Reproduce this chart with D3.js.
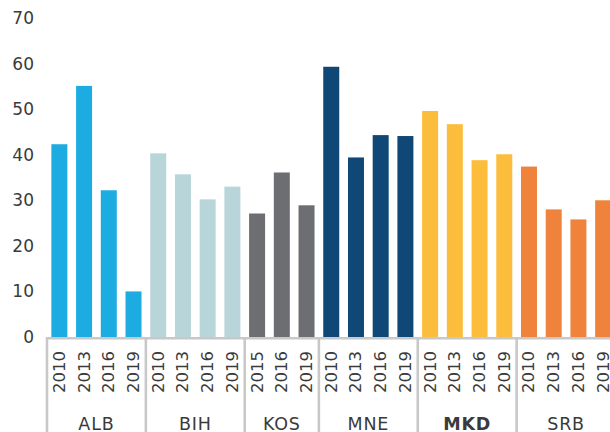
<!DOCTYPE html>
<html>
<head>
<meta charset="utf-8">
<script src="https://cdn.jsdelivr.net/npm/d3@7"></script>
<style>
  html, body { margin: 0; padding: 0; background: #fff; }
  svg { display: block; }
  text { font-family: "DejaVu Sans", sans-serif; fill: #3a3a3a; }
</style>
</head>
<body>
<svg id="chart" width="610" height="432"></svg>
<script>
const countries = ["ALB", "BIH", "KOS", "MNE", "MKD", "SRB"];
const years = [
  ["2010", "2013", "2016", "2019"],
  ["2010", "2013", "2016", "2019"],
  ["2015", "2016", "2019"],
  ["2010", "2013", "2016", "2019"],
  ["2010", "2013", "2016", "2019"],
  ["2010", "2013", "2016", "2019"]
];
const values = [
  [42.3, 55.1, 32.2, 10.0],
  [40.3, 35.7, 30.2, 33.0],
  [27.1, 36.1, 28.9],
  [59.3, 39.4, 44.3, 44.1],
  [49.6, 46.7, 38.8, 40.1],
  [37.4, 28.0, 25.8, 30.0]
];
const colors = ["#1cace2", "#b8d5d9", "#6d6e71", "#0f4776", "#fdbd3c", "#f0833c"];
const yTicks = [0, 10, 20, 30, 40, 50, 60, 70];
const boldCountry = "MKD";

const rows = [];
countries.forEach((c, gi) => {
  years[gi].forEach((yr, j) => {
    rows.push({ key: c + "-" + yr, country: c, year: yr, value: values[gi][j], gi });
  });
});

const svg = d3.select("#chart");
const x = d3.scaleBand()
  .domain(rows.map(d => d.key))
  .range([47, 615.5])
  .paddingInner(0.353)
  .paddingOuter(0.1765);
const y = d3.scaleLinear().domain([0, 70]).range([337, 18]);

// bars
svg.append("g").selectAll("rect").data(rows).join("rect")
  .attr("x", d => x(d.key))
  .attr("width", x.bandwidth())
  .attr("y", d => y(d.value))
  .attr("height", d => y(0) - y(d.value))
  .attr("fill", d => colors[d.gi]);

// y axis tick labels
svg.append("g").selectAll("text").data(yTicks).join("text")
  .attr("x", 34)
  .attr("y", d => y(d))
  .attr("text-anchor", "end")
  .attr("dominant-baseline", "central")
  .style("font-size", "17px")
  .text(d => d);

// baseline
svg.append("line")
  .attr("x1", 46).attr("x2", 610)
  .attr("y1", y(0) + 1.3).attr("y2", y(0) + 1.3)
  .attr("stroke", "#c8c8c8").attr("stroke-width", 2.6);

// group separators
const step = x.step();
const groupBounds = [];
let idx = 0;
countries.forEach((c, gi) => {
  const first = rows[idx].key;
  const last = rows[idx + years[gi].length - 1].key;
  const left = x(first) - (step - x.bandwidth()) / 2;
  const right = x(last) + x.bandwidth() + (step - x.bandwidth()) / 2;
  groupBounds.push({ c, left, right });
  idx += years[gi].length;
});
const sepX = [groupBounds[0].left].concat(groupBounds.slice(0, -1).map(g => g.right));
svg.append("g").selectAll("line").data(sepX).join("line")
  .attr("x1", d => d).attr("x2", d => d)
  .attr("y1", y(0)).attr("y2", 432)
  .attr("stroke", "#c8c8c8").attr("stroke-width", 2.6);

// year labels
svg.append("g").selectAll("text").data(rows).join("text")
  .attr("transform", d => `translate(${x(d.key) + x.bandwidth() / 2},351) rotate(-90)`)
  .attr("text-anchor", "end")
  .attr("dominant-baseline", "central")
  .style("font-size", "16.5px")
  .text(d => d.year);

// group labels
svg.append("g").selectAll("text").data(groupBounds).join("text")
  .attr("x", d => (d.left + Math.min(d.right, 618)) / 2)
  .attr("y", 423.5)
  .attr("text-anchor", "middle")
  .attr("dominant-baseline", "central")
  .style("font-size", "17.5px")
  .style("letter-spacing", "0.8px")
  .style("font-weight", d => d.c === boldCountry ? "bold" : "normal")
  .text(d => d.c);
</script>
</body>
</html>
